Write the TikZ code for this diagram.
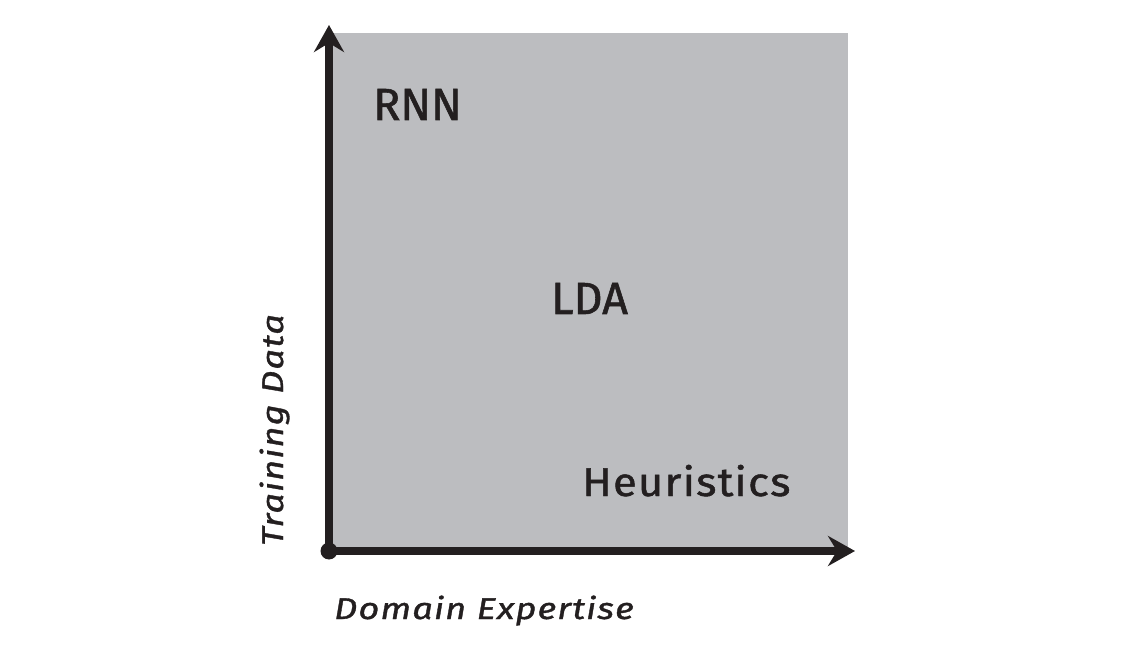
\documentclass[tikz,border=0pt]{standalone}
\usepackage{fontspec}
\setmainfont{Fira Sans}
\newfontfamily\capsfont{Fira Sans}[FakeBold=1.2]
\newfontfamily\widefont{Fira Sans}[FakeBold=1.2,FakeStretch=1.09,LetterSpace=3]
\newfontfamily\labfont{Fira Sans}[FakeBold=1.2,FakeStretch=1.21,LetterSpace=3.5]
\usetikzlibrary{arrows.meta}
\definecolor{ink}{HTML}{231F20}
\definecolor{panel}{HTML}{BCBDC0}
\begin{document}
\begin{tikzpicture}[x=1pt,y=1pt,
  axis/.style={draw=ink,line width=8pt,-{Stealth[length=27pt,width=30pt,inset=9pt]}},
  method/.style={anchor=base west,inner sep=0pt,text=ink},
  axislabel/.style={inner sep=0pt,text=ink,font=\labfont\itshape\fontsize{30}{36}\selectfont}]
\useasboundingbox (0,0) rectangle (1125,665);
\fill[panel] (329,114) rectangle (848,632);
\coordinate (o) at (329,114);
\coordinate (ytip) at (329,640);
\coordinate (xtip) at (855,114);
\draw[axis] (o) -- (ytip);
\draw[axis] (o) -- (xtip);
\fill[ink] (o) circle (8.5);
\node[method,font=\capsfont\fontsize{45}{50}\selectfont] (rnn) at (373,545) {RNN};
\node[method,font=\capsfont\fontsize{45}{50}\selectfont] (lda) at (551,351) {LDA};
\node[method,font=\widefont\fontsize{40}{50}\selectfont] (heur) at (582,169) {Heuristics};
\node[axislabel,anchor=base west] (dom) at (334,46) {Domain Expertise};
\node[axislabel,anchor=base,rotate=90] (train) at (283,235) {Training Data};
\end{tikzpicture}
\end{document}
